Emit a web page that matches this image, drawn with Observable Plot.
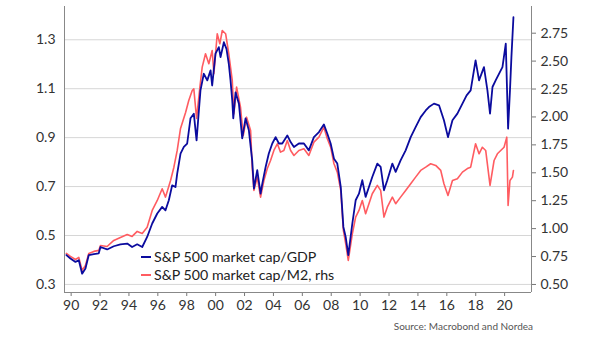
<!DOCTYPE html>
<html><head><meta charset="utf-8">
<script src="https://cdn.jsdelivr.net/npm/d3@7"></script>
<script src="https://cdn.jsdelivr.net/npm/@observablehq/plot@0.6"></script>
<style>
body{margin:0;background:#fff;font-family:Lato,"Open Sans",sans-serif;}
#wrap{position:relative;width:605px;height:341px;overflow:hidden;}
.leg{position:absolute;left:141px;font-size:14.2px;color:#222;line-height:18px;white-space:nowrap;}
.sw{display:inline-block;width:10px;height:2px;vertical-align:middle;margin-right:3px;position:relative;top:-1px;}
#src{position:absolute;top:320px;right:72px;font-size:10px;color:#555;}
</style></head><body><div id="wrap"></div>
<script>
const gdpYears = [1989.67,1989.95,1990.30,1990.53,1990.76,1990.99,1991.22,1991.57,1991.91,1992.03,
1992.49,1992.95,1993.41,1993.88,1994.22,1994.57,1994.92,1995.26,1995.61,1995.96,
1996.30,1996.53,1996.76,1996.99,1997.22,1997.34,1997.57,1997.80,1998.03,1998.26,
1998.49,1998.68,1998.84,1998.95,1999.18,1999.42,1999.65,1999.76,1999.99,2000.22,
2000.34,2000.57,2000.75,2000.91,2001.03,2001.15,2001.22,2001.38,2001.61,2001.84,
2002.07,2002.30,2002.53,2002.65,2002.88,2003.11,2003.23,2003.46,2003.68,2003.92,
2004.15,2004.38,2004.61,2004.96,2005.19,2005.42,2005.76,2006.11,2006.45,2006.80,
2007.15,2007.49,2007.73,2007.96,2008.19,2008.42,2008.66,2008.84,2009.00,2009.18,
2009.46,2009.69,2009.92,2010.15,2010.38,2010.61,2010.84,2011.19,2011.42,2011.65,
2011.88,2012.23,2012.46,2012.80,2013.15,2013.50,2013.84,2014.19,2014.54,2014.76,
2015.11,2015.46,2015.80,2016.08,2016.39,2016.73,2017.08,2017.37,2017.65,2017.99,
2018.23,2018.57,2018.81,2018.99,2019.16,2019.38,2019.61,2019.85,2020.08,2020.24,
2020.37,2020.47,2020.61];
const gdpValues = [0.420,0.406,0.392,0.399,0.344,0.365,0.420,0.424,0.427,0.453,
0.443,0.456,0.464,0.467,0.453,0.464,0.453,0.494,0.549,0.590,
0.617,0.603,0.644,0.705,0.698,0.753,0.835,0.862,0.876,0.979,
0.998,0.889,1.011,1.093,1.161,1.134,1.175,1.113,1.243,1.270,
1.229,1.290,1.263,1.202,1.134,1.052,0.979,1.085,1.039,0.897,
0.979,0.930,0.807,0.692,0.767,0.671,0.712,0.780,0.835,0.876,
0.902,0.876,0.876,0.909,0.882,0.862,0.876,0.876,0.848,0.902,
0.923,0.954,0.916,0.876,0.814,0.794,0.698,0.535,0.494,0.420,
0.549,0.644,0.671,0.726,0.658,0.698,0.739,0.794,0.780,0.685,
0.726,0.794,0.760,0.807,0.848,0.902,0.943,0.984,1.011,1.025,
1.039,1.032,0.971,0.902,0.971,0.998,1.039,1.073,1.093,1.216,
1.134,1.188,1.093,0.998,1.107,1.134,1.161,1.188,1.284,0.937,
1.093,1.229,1.392];
const m2Years = [1989.67,1989.95,1990.30,1990.53,1990.76,1990.99,1991.22,1991.57,1991.91,1992.03,
1992.49,1992.95,1993.41,1993.88,1994.22,1994.57,1994.92,1995.26,1995.61,1995.96,
1996.30,1996.53,1996.88,1997.11,1997.34,1997.57,1997.92,1998.14,1998.38,1998.49,
1998.68,1998.91,1999.07,1999.30,1999.53,1999.76,1999.88,2000.11,2000.29,2000.46,
2000.69,2000.91,2001.15,2001.26,2001.45,2001.72,2001.91,2002.14,2002.42,2002.53,
2002.65,2002.88,2003.11,2003.34,2003.57,2003.80,2004.03,2004.27,2004.49,2004.72,
2004.96,2005.19,2005.42,2005.76,2006.11,2006.45,2006.80,2007.15,2007.49,2007.73,
2007.96,2008.19,2008.42,2008.66,2008.84,2009.00,2009.18,2009.46,2009.69,2009.92,
2010.15,2010.38,2010.61,2010.84,2011.19,2011.42,2011.65,2011.88,2012.23,2012.46,
2012.80,2013.15,2013.50,2013.84,2014.19,2014.54,2014.88,2015.23,2015.58,2015.80,
2016.08,2016.39,2016.73,2017.08,2017.42,2017.65,2017.99,2018.23,2018.46,2018.69,
2018.99,2019.27,2019.50,2019.73,2019.96,2020.15,2020.24,2020.37,2020.54,2020.61];
const m2Values = [0.778,0.751,0.724,0.742,0.626,0.670,0.778,0.796,0.805,0.849,
0.840,0.894,0.921,0.948,0.930,0.975,0.957,1.013,1.163,1.252,
1.357,1.282,1.431,1.550,1.700,1.897,2.040,2.147,2.237,2.252,
1.986,2.267,2.446,2.566,2.476,2.595,2.387,2.745,2.655,2.774,
2.745,2.566,2.327,2.028,2.267,2.088,1.834,1.998,1.879,1.550,
1.342,1.461,1.282,1.431,1.536,1.610,1.700,1.760,1.685,1.700,
1.789,1.700,1.655,1.700,1.715,1.655,1.774,1.819,1.908,1.805,
1.729,1.581,1.506,1.342,0.984,0.865,0.715,0.954,1.103,1.163,
1.252,1.133,1.223,1.312,1.387,1.342,1.103,1.192,1.282,1.223,
1.282,1.342,1.402,1.461,1.521,1.550,1.581,1.566,1.521,1.402,
1.297,1.431,1.447,1.506,1.538,1.550,1.760,1.670,1.729,1.700,
1.387,1.610,1.670,1.700,1.729,1.819,1.207,1.431,1.461,1.521];

const xTickYears = [1990,1992,1994,1996,1998,2000,2002,2004,2006,2008,2010,2012,2014,2016,2018,2020];
const leftTicks = [0.3,0.5,0.7,0.9,1.1,1.3];
const rightTicks = [0.5,0.75,1.0,1.25,1.5,1.75,2.0,2.25,2.5,2.75];
const seriesNames = ["S&P 500 market cap/GDP","S&P 500 market cap/M2, rhs"];
const seriesColors = ["#0b0b9e","#ff5c61"];
const sourceText = "Source: Macrobond and Nordea";

const xDomain = [1989.54, 2021.86];
const leftDomain = [0.267, 1.436];
const rightDomain = [0.428, 2.989];

const toLeft = d3.scaleLinear().domain(rightDomain).range(leftDomain);
const gdp = gdpYears.map((t,i)=>({t, v: gdpValues[i]}));
const m2 = m2Years.map((t,i)=>({t, v: toLeft(m2Values[i])}));

const chart = Plot.plot({
  width: 605, height: 318,
  marginLeft: 64, marginRight: 74, marginTop: 6, marginBottom: 26,
  style: {fontFamily: "Lato, 'Open Sans', sans-serif", fontSize: "14px", color: "#333", background: "#fff", overflow: "visible"},
  x: {type: "linear", domain: xDomain},
  y: {domain: leftDomain},
  marks: [
    Plot.gridY(leftTicks, {stroke: "#d6d6d6", strokeOpacity: 1, strokeWidth: 1}),
    Plot.axisY(leftTicks, {anchor: "left", tickSize: 0, tickPadding: 9, tickFormat: d => d.toFixed(1), label: null}),
    Plot.axisY(rightTicks.map(toLeft), {anchor: "right", tickSize: 4, tickPadding: 5, stroke: "#777", tickFormat: d => toLeft.invert(d).toFixed(2), label: null}),
    Plot.axisX(xTickYears, {anchor: "bottom", tickSize: 4, tickPadding: 4, stroke: "#777", tickFormat: d => String(d % 100).padStart(2, "0"), label: null}),
    Plot.ruleX(xDomain, {stroke: "#888"}),
    Plot.ruleY([leftDomain[0]], {stroke: "#888"}),
    Plot.line(m2, {x: "t", y: "v", stroke: seriesColors[1], strokeWidth: 1.6}),
    Plot.line(gdp, {x: "t", y: "v", stroke: seriesColors[0], strokeWidth: 1.8})
  ]
});
const wrap = document.getElementById("wrap");
wrap.appendChild(chart);
[248, 266].forEach((top, i) => {
  const d = document.createElement("div");
  d.className = "leg";
  d.style.top = top + "px";
  d.innerHTML = `<span class="sw" style="background:${seriesColors[i]}"></span>`;
  d.appendChild(document.createTextNode(seriesNames[i]));
  wrap.appendChild(d);
});
const s = document.createElement("div");
s.id = "src"; s.textContent = sourceText;
wrap.appendChild(s);
</script></body></html>
